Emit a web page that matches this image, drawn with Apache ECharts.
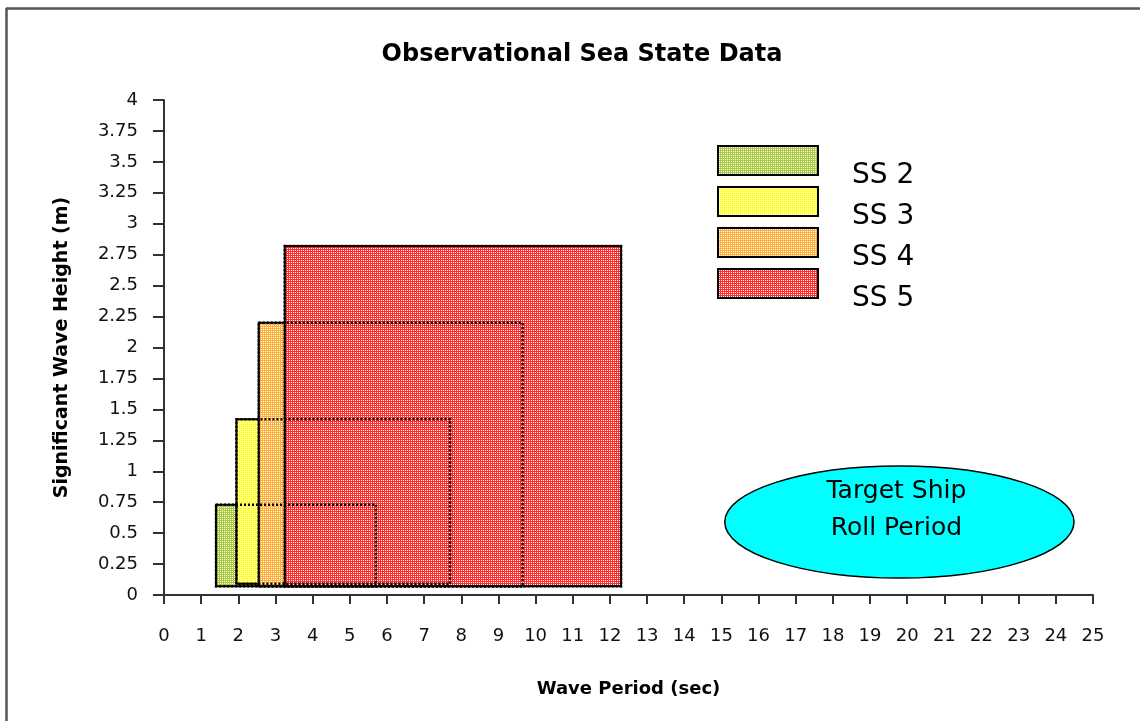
<!DOCTYPE html>
<html>
<head>
<meta charset="utf-8">
<script src="https://cdn.jsdelivr.net/npm/echarts@6/dist/echarts.min.js"></script>
<style>
  html, body { margin: 0; padding: 0; background: #fff; }
  #chart { width: 1140px; height: 721px; }
</style>
</head>
<body>
<div id="chart"></div>
<script>
// sea state boxes (period in sec, height in m)
const seaStates = ['SS 2', 'SS 3', 'SS 4', 'SS 5'];
const periodMin = [1.4, 1.95, 2.55, 3.25];
const periodMax = [5.7, 7.7, 9.65, 12.3];
const heightMin = [0.07, 0.09, 0.07, 0.07];
const heightMax = [0.73, 1.42, 2.2, 2.82];
const baseColors = ['#a7c93a', '#ffff2b', '#ffaf38', '#ff2b2b'];

// target ship roll period ellipse: centre period, centre height, half width, half height
const rollPeriod = [19.79, 0.59, 4.7, 0.453];
const rollLabel = 'Target Ship\nRoll Period';

const font = 'DejaVu Sans';

// 2x2 dither like the old spreadsheet fill
const ditherCanvas = (base) => {
    const c = document.createElement('canvas');
    c.width = 2;
    c.height = 2;
    const ctx = c.getContext('2d');
    ctx.fillStyle = base;
    ctx.fillRect(0, 0, 2, 2);
    ctx.fillStyle = '#ffffff';
    ctx.fillRect(0, 0, 1, 1);
    return c;
};

// dithered block of a given pixel size
const ditherBlock = (base, w, h) => {
    const c = document.createElement('canvas');
    c.width = Math.max(1, Math.round(w));
    c.height = Math.max(1, Math.round(h));
    const ctx = c.getContext('2d');
    ctx.fillStyle = ctx.createPattern(ditherCanvas(base), 'repeat');
    ctx.fillRect(0, 0, c.width, c.height);
    return c;
};

// legend swatch: box sits in the top half so the label lands lower, like the original
const swatchW = 102;
const swatchH = 31;
const swatchPad = 30;
const legendIcon = (base) => {
    const c = document.createElement('canvas');
    c.width = swatchW;
    c.height = swatchH + swatchPad;
    const ctx = c.getContext('2d');
    ctx.drawImage(ditherBlock(base, swatchW, swatchH), 0, 0);
    ctx.strokeStyle = '#000';
    ctx.lineWidth = 2;
    ctx.strokeRect(1, 1, swatchW - 2, swatchH - 2);
    return 'image://' + c.toDataURL();
};

const boxCorners = (api) => {
    const tl = api.coord([api.value(0), api.value(3)]);
    const br = api.coord([api.value(1), api.value(2)]);
    return { x: tl[0], y: tl[1], width: br[0] - tl[0], height: br[1] - tl[1] };
};

const renderBox = (params, api) => {
    const r = boxCorners(api);
    return {
        type: 'group',
        children: [
            {
                type: 'image',
                style: {
                    image: ditherBlock(baseColors[params.seriesIndex], r.width, r.height),
                    x: Math.round(r.x),
                    y: Math.round(r.y),
                    width: Math.round(r.width),
                    height: Math.round(r.height),
                },
            },
            {
                type: 'rect',
                shape: r,
                style: { fill: 'none', stroke: '#000', lineWidth: 2 },
            },
        ],
    };
};

// hidden edges show through the later fills as dotted lines
const renderOutline = (params, api) => ({
    type: 'rect',
    shape: boxCorners(api),
    style: { fill: 'none', stroke: '#000', lineWidth: 2.5, lineDash: [2, 2] },
});

const renderEllipse = (params, api) => {
    const c = api.coord([api.value(0), api.value(1)]);
    const e = api.coord([api.value(0) + api.value(2), api.value(1) + api.value(3)]);
    return {
        type: 'group',
        children: [
            {
                type: 'ellipse',
                shape: { cx: c[0], cy: c[1], rx: e[0] - c[0], ry: c[1] - e[1] },
                style: { fill: '#00ffff', stroke: '#000', lineWidth: 1.5 },
            },
            {
                type: 'text',
                x: c[0] - 3,
                y: c[1] - 12,
                style: {
                    text: rollLabel,
                    fill: '#000',
                    font: '25px "' + font + '"',
                    align: 'center',
                    verticalAlign: 'middle',
                    lineHeight: 37,
                },
            },
        ],
    };
};

const chart = echarts.init(document.getElementById('chart'));

const boxSeries = seaStates.map((name, i) => ({
    name,
    type: 'custom',
    renderItem: renderBox,
    silent: true,
    itemStyle: { color: baseColors[i] },
    encode: { x: [0, 1], y: [2, 3] },
    data: [[periodMin[i], periodMax[i], heightMin[i], heightMax[i]]],
    z: 2 + i,
}));

const option = {
    animation: false,
    backgroundColor: '#fff',
    textStyle: { fontFamily: font, color: '#000' },
    title: {
        text: 'Observational Sea State Data',
        left: 582,
        top: 43,
        padding: 0,
        textAlign: 'center',
        textStyle: { fontFamily: font, fontWeight: 'bold', fontSize: 24, color: '#000' },
    },
    legend: {
        orient: 'vertical',
        left: 712,
        top: 140,
        itemWidth: swatchW,
        itemHeight: swatchH + swatchPad,
        itemGap: -20,
        selectedMode: false,
        data: seaStates.map((name, i) => ({ name, icon: legendIcon(baseColors[i]) })),
        textStyle: {
            fontFamily: font,
            fontSize: 28,
            color: '#000',
            padding: [0, 0, 0, 28],
        },
    },
    grid: { left: 164, top: 100, right: 47, bottom: 126 },
    xAxis: {
        type: 'value',
        min: 0,
        max: 25,
        interval: 1,
        name: 'Wave Period (sec)',
        nameLocation: 'middle',
        nameGap: 85,
        nameTextStyle: { fontFamily: font, fontWeight: 'bold', fontSize: 18, color: '#000' },
        axisLine: { lineStyle: { color: '#333', width: 2 } },
        axisTick: { length: 9, lineStyle: { color: '#333', width: 2 } },
        axisLabel: { margin: 32, fontSize: 18, color: '#111', fontFamily: font },
        splitLine: { show: false },
    },
    yAxis: {
        type: 'value',
        min: 0,
        max: 4,
        interval: 0.25,
        name: 'Significant Wave Height (m)',
        nameLocation: 'middle',
        nameGap: 92,
        nameTextStyle: { fontFamily: font, fontWeight: 'bold', fontSize: 19, color: '#000' },
        axisLine: { show: true, lineStyle: { color: '#333', width: 2 } },
        axisTick: { show: true, length: 11, lineStyle: { color: '#333', width: 2 } },
        axisLabel: { margin: 26, fontSize: 18, color: '#111', fontFamily: font, formatter: (v) => String(v) },
        splitLine: { show: false },
    },
    graphic: [
        { type: 'line', shape: { x1: 6.5, y1: 8, x2: 6.5, y2: 721 }, style: { stroke: '#555', lineWidth: 2.5 } },
        { type: 'line', shape: { x1: 6, y1: 8.5, x2: 1140, y2: 8.5 }, style: { stroke: '#555', lineWidth: 2.5 } },
    ],
    series: [
        ...boxSeries,
        {
            name: 'outline',
            type: 'custom',
            renderItem: renderOutline,
            silent: true,
            encode: { x: [0, 1], y: [2, 3] },
            data: seaStates.map((n, i) => [periodMin[i], periodMax[i], heightMin[i], heightMax[i]]),
            z: 10,
        },
        {
            name: 'roll',
            type: 'custom',
            renderItem: renderEllipse,
            silent: true,
            encode: { x: 0, y: 1 },
            data: [rollPeriod],
            z: 11,
        },
    ],
};

chart.setOption(option);
</script>
</body>
</html>
